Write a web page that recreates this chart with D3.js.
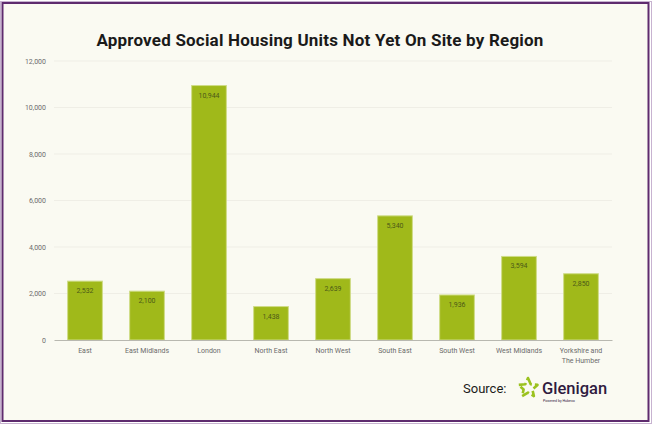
<!DOCTYPE html>
<html lang="en">
<head>
  <title>Approved Social Housing Units</title>
  <script src="https://cdn.jsdelivr.net/npm/d3@7"></script>
  <style>
    body { margin: 0; background: #fff; }
    text { font-family: Roboto, "Noto Sans", sans-serif; }
  </style>
</head>
<body>
  <script>
    var regions = ["East", "East Midlands", "London", "North East", "North West",
                   "South East", "South West", "West Midlands", "Yorkshire and The Humber"];
    var units = [2532, 2100, 10944, 1438, 2639, 5340, 1936, 3594, 2850];
    var yTicks = [0, 2000, 4000, 6000, 8000, 10000, 12000];

    var w = 653, h = 425;
    var margin = { top: 61, left: 54, right: 41, bottom: 85 };
    var width = w - margin.left - margin.right;
    var height = h - margin.top - margin.bottom;

    var svg = d3.select("body").append("svg")
                .attr("width", w)
                .attr("height", h);

    // background + frame
    svg.append("rect")
       .attr("x", 0.5).attr("y", 1.5)
       .attr("width", w - 2).attr("height", h - 3)
       .attr("fill", "none")
       .attr("stroke", "#c7b3d0");
    svg.append("rect")
       .attr("x", 2.5).attr("y", 3)
       .attr("width", w - 7).attr("height", h - 7)
       .attr("fill", "#fafaf2")
       .attr("stroke", "#5e2b6e")
       .attr("stroke-width", 2);

    svg.append("text")
       .attr("x", 320).attr("y", 46)
       .attr("text-anchor", "middle")
       .attr("font-size", 17)
       .attr("font-weight", 700)
       .attr("letter-spacing", 0.2)
       .attr("fill", "#1a1a1a")
       .text("Approved Social Housing Units Not Yet On Site by Region");

    var chart = svg.append("g")
                   .attr("transform", "translate(" + margin.left + "," + margin.top + ")");

    var x = d3.scaleBand()
              .domain(regions)
              .range([0, width])
              .paddingInner(0.44)
              .paddingOuter(0.22);
    var y = d3.scaleLinear()
              .domain([0, 12000])
              .range([height, 0]);

    // grid
    chart.append("g")
         .selectAll("line")
         .data(yTicks.slice(1))
         .enter().append("line")
         .attr("x1", 0).attr("x2", width)
         .attr("y1", function(d) { return y(d); })
         .attr("y2", function(d) { return y(d); })
         .attr("stroke", "#efeee6");

    var yAxis = d3.axisLeft(y)
                  .tickValues(yTicks)
                  .tickSize(0)
                  .tickPadding(8)
                  .tickFormat(d3.format(","));
    var gy = chart.append("g").call(yAxis);
    gy.select(".domain").remove();
    gy.selectAll("text").attr("font-size", 7).attr("fill", "#6b6b6b");

    // bars
    chart.selectAll(".bar")
         .data(units)
         .enter().append("rect")
         .classed("bar", true)
         .attr("x", function(d, i) { return x(regions[i]); })
         .attr("y", function(d) { return y(d); })
         .attr("width", x.bandwidth())
         .attr("height", function(d) { return height - y(d); })
         .attr("fill", "#a0b91a")
         .attr("stroke", "#cfdc86")
         .attr("stroke-width", 1);

    chart.selectAll(".val")
         .data(units)
         .enter().append("text")
         .classed("val", true)
         .attr("x", function(d, i) { return x(regions[i]) + x.bandwidth() / 2; })
         .attr("y", function(d) { return y(d) + 12; })
         .attr("text-anchor", "middle")
         .attr("font-size", 7)
         .attr("fill", "#4d5a18")
         .text(function(d) { return d3.format(",")(d); });

    // x axis
    var xAxis = d3.axisBottom(x).tickSize(0).tickPadding(9).tickFormat("");
    var gx = chart.append("g")
                  .attr("transform", "translate(0," + height + ")")
                  .call(xAxis);
    gx.select(".domain").attr("stroke", "#b8b8b0");

    chart.selectAll(".xl")
         .data(regions)
         .enter().append("text")
         .classed("xl", true)
         .attr("x", function(d) { return x(d) + x.bandwidth() / 2; })
         .attr("y", height + 13)
         .attr("text-anchor", "middle")
         .attr("font-size", 7)
         .attr("fill", "#6b6b6b")
         .each(function(d) {
           var lines = d === "Yorkshire and The Humber" ? ["Yorkshire and", "The Humber"] : [d];
           var t = d3.select(this);
           lines.forEach(function(l, k) {
             t.append("tspan")
              .attr("x", t.attr("x"))
              .attr("dy", k === 0 ? 0 : 10)
              .text(l);
           });
         });

    // source + logo
    svg.append("text")
       .attr("x", 463).attr("y", 393)
       .attr("font-size", 13)
       .attr("fill", "#1a1a1a")
       .text("Source:");

    var logo = svg.append("g").attr("transform", "translate(528,388)");
    var pts = d3.range(10).map(function(k) {
      var r = k % 2 === 0 ? 10 : 4.6;
      var a = -Math.PI / 2 + k * Math.PI / 5;
      return [r * Math.cos(a), r * Math.sin(a)];
    });
    logo.append("path")
        .attr("d", d3.line()(pts) + "Z")
        .attr("fill", "none")
        .attr("stroke", "#9bc21f")
        .attr("stroke-width", 2.6)
        .attr("stroke-linejoin", "round")
        .attr("stroke-dasharray", "8,3");

    svg.append("text")
       .attr("x", 542).attr("y", 394)
       .attr("font-size", 16.5)
       .attr("font-weight", 500)
       .attr("fill", "#2f1a40")
       .text("Glenigan");
    svg.append("text")
       .attr("x", 543).attr("y", 402)
       .attr("font-size", 3.6)
       .attr("fill", "#2f1a40")
       .text("Powered by Hubexo");
  </script>
</body>
</html>
